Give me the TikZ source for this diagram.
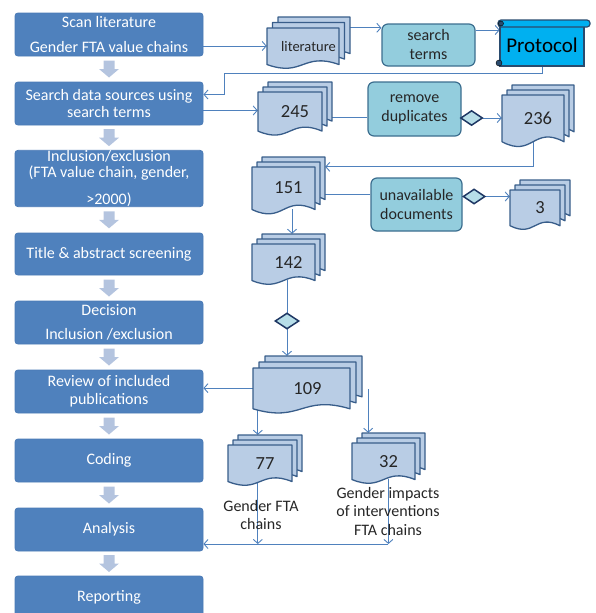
\documentclass[tikz,border=0pt]{standalone}
\usepackage{fontspec}
\setmainfont{Carlito}
\usetikzlibrary{calc,arrows.meta,backgrounds,shapes.geometric}

\definecolor{boxblue}{HTML}{4F81BD}
\definecolor{boxline}{HTML}{4A7AB5}
\definecolor{docfill}{HTML}{B9CDE5}
\definecolor{docline}{HTML}{385D8A}
\definecolor{tealfill}{HTML}{93CDDD}
\definecolor{tealline}{HTML}{3C6E8F}
\definecolor{diafill}{HTML}{B7DEE8}
\definecolor{dialine}{HTML}{1F3864}
\definecolor{protofill}{HTML}{00B0F0}
\definecolor{protoline}{HTML}{2A4B6E}
\definecolor{arrfill}{HTML}{B4C4DF}
\definecolor{connblue}{HTML}{4F81BD}

% one sheet with a wavy bottom: x, y (top left), width, height
\newcommand{\docsheet}[4]{%
  \pgfmathsetmacro\docR{#1+#3}%
  \pgfmathsetmacro\docM{#1+0.5*#3}%
  \pgfmathsetmacro\docE{#2+0.85*#4}%
  \pgfmathsetmacro\docU{#2+0.55*#4}%
  \pgfmathsetmacro\docD{#2+1.15*#4}%
  \filldraw[sheet] (#1,#2) -- (\docR,#2) -- (\docR,\docE)
    .. controls (\docM,\docU) and (\docM,\docD) .. (#1,\docE) -- cycle;%
}
% stack of three sheets: name, x, y, width, height, offset, text
\newcommand{\multidoc}[7]{%
  \foreach \k in {2,1,0}{%
    \docsheet{#2+\k*#6}{#3-\k*#6}{#4}{#5}}%
  \node[doctext, minimum width=#4+2*#6, minimum height=0.84*#5]
    (#1) at (#2+0.5*#4+#6, #3+0.42*#5) {#7};%
}

\begin{document}
\begin{tikzpicture}[x=1pt, y=-1pt,
    stage/.style={rectangle, rounded corners=3pt, fill=boxblue, draw=boxline,
      line width=0.8pt, text=white, font=\fontsize{16}{17.5}\selectfont,
      minimum width=188pt, minimum height=43pt, align=center, inner sep=0pt},
    tealbox/.style={rectangle, rounded corners=6pt, fill=tealfill, draw=tealline,
      line width=1.2pt, font=\fontsize{16}{19}\selectfont, align=center,
      inner sep=0pt, text=black!85},
    sheet/.style={fill=docfill, draw=docline, line width=1.3pt, line join=round},
    doctext/.style={inner sep=0pt, font=\fontsize{18.5}{20}\selectfont, text=black!85},
    diam/.style={diamond, fill=diafill, draw=dialine, line width=1.5pt,
      minimum width=22pt, minimum height=15pt, inner sep=0pt},
    scroll/.style={fill=protofill, draw=protoline, line width=1.2pt},
    lbl/.style={font=\fontsize{16}{18.5}\selectfont, align=center, text=black!85},
    blockarr/.style={fill=arrfill},
    conn/.style={draw=connblue, line width=0.9pt},
    ->/.style={conn, -{Straight Barb[length=4pt,width=9pt]}}]

    \useasboundingbox (0,0) rectangle (596,613);

    % Steps on the left
    \node[stage] (s1) at (109,34.5) {Scan literature\\[7pt]Gender FTA value chains};
    \node[stage] (s2) at (109,103.5) {Search data sources using\\search terms};
    \node[stage, minimum height=56pt] (s3) at (109,178.5)
      {Inclusion/exclusion\\[-1pt](FTA value chain, gender,\\[9pt]>2000)};
    \node[stage, minimum height=42pt] (s4) at (109,254) {Title \& abstract screening};
    \node[stage] (s5) at (109,322.5) {Decision\\[7pt]Inclusion /exclusion};
    \node[stage] (s6) at (109,391.5) {Review of included\\[0.5pt]publications};
    \node[stage] (s7) at (109,460.5) {Coding};
    \node[stage] (s8) at (109,529.5) {Analysis};
    \node[stage] (s9) at (109,597.5) {Reporting};

    % Block arrows between the steps
    \foreach \a/\b in {s1/s2,s2/s3,s3/s4,s4/s5,s5/s6,s6/s7,s7/s8,s8/s9}{
        \coordinate (mid) at ($(\a.south)!0.5!(\b.north)$);
        \fill[blockarr] ($(mid)+(-5.5,-8.5)$) -- ++(11,0) -- ++(0,8.5) -- ++(4.5,0)
          -- ++(-10,8.5) -- ++(-10,-8.5) -- ++(4.5,0) -- cycle;
    }

    % Documents
    \multidoc{lit}{267}{28}{72}{43}{5.5}{\fontsize{14.5}{16}\selectfont literature}
    \multidoc{n245}{258}{92}{64}{46}{5}{245}
    \multidoc{n236}{502}{95}{62}{55}{5}{236}
    \multidoc{n151}{252}{167}{63}{50}{5}{151}
    \multidoc{n3}{510}{190}{50}{42}{5}{3}
    \multidoc{n142}{252}{244}{63}{43}{5}{142}
    \multidoc{n109}{253}{368}{97}{48}{6}{109}
    \multidoc{n77}{228}{445}{64}{43}{5}{77}
    \multidoc{n32}{352}{443}{63}{43}{5}{32}

    % Tasks
    \node[tealbox, minimum width=93pt, minimum height=42pt] (terms) at (428.5,45) {search\\terms};
    \node[tealbox, minimum width=93pt, minimum height=54pt] (rmdup) at (414.5,109) {remove\\duplicates};
    \node[tealbox, minimum width=91pt, minimum height=53pt] (unavail) at (416.5,204.5) {unavailable\\documents};

    % Protocol scroll
    \filldraw[scroll] (500,25) rectangle (584,66);
    \filldraw[scroll, rounded corners=3pt] (498,20) rectangle (590,27);
    \filldraw[fill=protoline] (501,23.5) circle (2.5);
    \filldraw[fill=protoline] (499,63) circle (3);
    \node[font=\fontsize{21}{23}\selectfont, minimum width=84pt, minimum height=41pt,
      inner sep=0pt] (proto) at (542,45.5) {Protocol};

    % Decisions
    \node[diam] (d1) at ($(rmdup.east)+(10,9)$) {};
    \node[diam] (d2) at ($(unavail.east)+(11.5,-8)$) {};
    \node[diam, minimum width=24pt, minimum height=16pt] (d3) at (287,321) {};

    % Labels
    \node[lbl] (l77) at (261,515) {Gender FTA\\chains};
    \node[lbl] (l32) at (388,511) {Gender impacts\\of interventions\\FTA chains};

    % Connectors
    \coordinate (o1) at ($(s1.east)+(0,11.5)$);
    \coordinate (o2) at ($(s2.east)+(0,7)$);
    \coordinate (o3) at ($(terms.east)+(0,-15)$);
    \coordinate (ret) at ($(s2.east)+(21,-30.5)$);
    \coordinate (rmin) at ($(rmdup.west)+(0,8)$);
    \coordinate (uin) at ($(unavail.west)+(0,-10)$);
    \coordinate (b236) at ($(n236.south)+(-5,0)$);
    \coordinate (t142) at ($(n142.north)+(3.5,-10)$);
    \coordinate (t109) at ($(n109.north)+(0,-12)$);
    \coordinate (r109) at ($(n109.east)+(6,1)$);
    \coordinate (t32) at ($(n32.north)+(0,-10)$);
    \coordinate (t77) at ($(n77.north west)+(30,-10)$);
    \coordinate (jn) at ($(s8.east)+(185,14.5)$);

    \begin{scope}[on background layer]
        \draw[->] (o1) -- (o1 -| lit.west);
        \draw[->] (lit.north east) -- (lit.north east -| terms.west);
        \draw[->] (o3) -- (o3 -| proto.west);
        \draw[->] (proto.south) |- (ret) |- ($(s2.east)+(0,-9)$);
        \draw[->] (o2) -- (o2 -| n245.west);
        \draw[conn] (rmin) -- (rmin -| n245.east);
        \draw[->] (d1.east) -- (d1.east -| n236.west);
        \draw[->] (b236) |- (n151.north east);
        \draw[conn] (uin) -- (uin -| n151.east);
        \draw[->] (d2.east) -- (d2.east -| n3.west);
        \draw[->] (t142 |- n151.south) -- (t142);
        \draw[->] (d3 |- n142.south) -- (d3 |- t109);
        \draw[->] (n109.west) -- (n109.west -| s6.east);
        \draw[->] (r109) -- (r109 |- t32);
        \draw[->] (t77 |- n109.south) -- (t77);
        \draw[->] (t77 |- n77.south) -- (t77 |- jn);
        \draw[->] (jn |- n32.south) -- (jn);
        \draw[->] (jn) -- (jn -| s8.east);
    \end{scope}

\end{tikzpicture}
\end{document}
